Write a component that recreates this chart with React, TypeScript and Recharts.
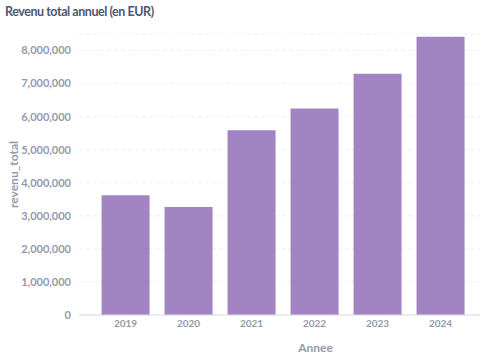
import { BarChart, Bar, XAxis, YAxis, CartesianGrid, Label } from "recharts";

const years = ["2019", "2020", "2021", "2022", "2023", "2024"];
const revenues = [3620000, 3270000, 5590000, 6250000, 7300000, 8420000];
const yTicks = [0, 1000000, 2000000, 3000000, 4000000, 5000000, 6000000, 7000000, 8000000];

const data = years.map((annee, i) => ({ annee, revenu_total: revenues[i] }));

const font = "Lato, 'Noto Sans', sans-serif";
const tickColor = "#949aab";

export default function App() {
  return (
    <div style={{ position: "absolute", left: 0, top: 0, width: 489, height: 356, background: "#fff", fontFamily: font }}>
      <div
        style={{
          position: "absolute",
          left: 5,
          top: 4,
          fontSize: 12.5,
          fontWeight: 700,
          letterSpacing: -0.45,
          color: "#4c5773",
          whiteSpace: "nowrap",
        }}
      >
        Revenu total annuel (en EUR)
      </div>
      <BarChart
        width={489}
        height={356}
        data={data}
        margin={{ top: 34, right: 9, bottom: 0, left: 0 }}
        barCategoryGap="12%"
      >
        <CartesianGrid vertical={false} stroke="#eeeff3" strokeDasharray="4 3" />
        <XAxis
          dataKey="annee"
          height={41}
          padding={{ left: 15, right: 8 }}
          axisLine={{ stroke: "#d9dce3" }}
          tickLine={false}
          tickSize={0}
          tickMargin={5}
          tick={{ fontSize: 10, fontWeight: 700, fill: tickColor, fontFamily: font }}
        >
          <Label
            value="Annee"
            position="insideBottom"
            offset={4}
            dx={36}
            style={{ fontSize: 12, fontWeight: 700, fill: tickColor, fontFamily: font }}
          />
        </XAxis>
        <YAxis
          width={79}
          domain={[0, 8500000]}
          ticks={yTicks}
          interval={0}
          axisLine={false}
          tickLine={false}
          tickFormatter={(v: number) => v.toLocaleString("en-US")}
          tick={{ fontSize: 11, fontWeight: 700, fill: tickColor, fontFamily: font }}
        >
          <Label
            value="revenu_total"
            angle={-90}
            position="insideLeft"
            offset={14}
            style={{ fontSize: 12, fontWeight: 700, fill: tickColor, fontFamily: font, textAnchor: "middle" }}
          />
        </YAxis>
        <Bar dataKey="revenu_total" fill="#a384c3" isAnimationActive={false} />
      </BarChart>
    </div>
  );
}
